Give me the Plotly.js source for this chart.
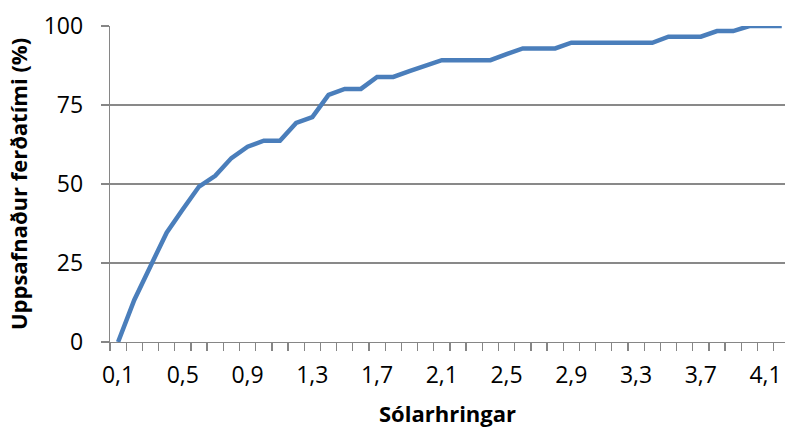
<!DOCTYPE html>
<html>
<head>
<meta charset="utf-8">
<script src="https://cdn.plot.ly/plotly-3.0.1.min.js"></script>
<style>html,body{margin:0;padding:0;background:#fff;}#chart{width:785px;height:428px;}</style>
</head>
<body>
<div id="chart"></div>
<script>
const categories = ["0,1","0,2","0,3","0,4","0,5","0,6","0,7","0,8","0,9","1,0",
  "1,1","1,2","1,3","1,4","1,5","1,6","1,7","1,8","1,9","2,0",
  "2,1","2,2","2,3","2,4","2,5","2,6","2,7","2,8","2,9","3,0",
  "3,1","3,2","3,3","3,4","3,5","3,6","3,7","3,8","3,9","4,0",
  "4,1","4,2"];
const cumulative = [0,13.3,24,34.6,42,49.2,52.6,58.2,61.8,63.7,
  63.7,69.3,71.2,78.2,80.1,80.1,83.9,83.9,85.7,87.5,
  89.2,89.2,89.2,89.2,91.1,92.9,92.9,92.9,94.7,94.7,
  94.7,94.7,94.7,94.7,96.6,96.6,96.6,98.4,98.4,100,
  100,100];
const shownLabels = ["0,1","0,5","0,9","1,3","1,7","2,1","2,5","2,9","3,3","3,7","4,1"];
const yTicks = [0,25,50,75,100];
const xTitle = "Sólarhringar";
const yTitle = "Uppsafnaður ferðatími (%)";

const tickText = categories.map(c => shownLabels.includes(c) ? c : "");
const font = "Open Sans";

Plotly.newPlot("chart", [{
  type: "scatter", mode: "lines",
  x: categories, y: cumulative,
  line: {color: "#4a7ebb", width: 4.5},
  hoverinfo: "skip"
}], {
  width: 785, height: 428,
  margin: {l: 110, r: 0, t: 26, b: 86},
  paper_bgcolor: "#fff", plot_bgcolor: "#fff",
  showlegend: false,
  font: {family: font, size: 23, color: "#000"},
  xaxis: {
    type: "category",
    range: [-0.5, 41.2],
    tickvals: categories, ticktext: tickText,
    tickson: "boundaries",
    ticks: "outside", ticklen: 8, tickcolor: "#868686", tickwidth: 1.3,
    showline: true, linecolor: "#868686", linewidth: 1.3,
    showgrid: false, zeroline: false,
    tickangle: 0,
    ticklabelstandoff: 12,
    tickfont: {family: font, size: 23},
    title: {text: xTitle, font: {family: font, size: 22, weight: "bold"}, standoff: 17}
  },
  yaxis: {
    range: [0, 100],
    tickvals: yTicks,
    ticks: "outside", ticklen: 8, tickcolor: "#868686", tickwidth: 1.3,
    showline: true, linecolor: "#868686", linewidth: 1.3,
    showgrid: true, gridcolor: "#898989", gridwidth: 1.3,
    zeroline: false,
    ticklabelstandoff: 13,
    tickfont: {family: font, size: 23},
    title: {text: yTitle, font: {family: font, size: 22, weight: "bold"}, standoff: 10}
  }
}, {staticPlot: true});
</script>
</body>
</html>
